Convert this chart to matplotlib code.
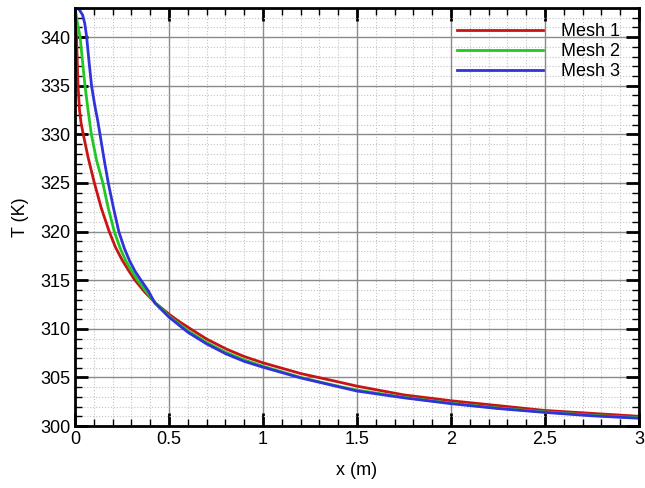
import matplotlib
matplotlib.use("Agg")
import matplotlib.pyplot as plt
from matplotlib.ticker import MultipleLocator

plt.rcParams['font.family'] = ['Liberation Sans', 'DejaVu Sans']

# Mesh 1 (red)
x1 = [0, 0.008, 0.016, 0.024, 0.032, 0.044, 0.07, 0.103, 0.14, 0.182, 0.215,
      0.25, 0.285, 0.319, 0.37, 0.425, 0.5, 0.55, 0.61, 0.7, 0.807, 0.9, 1.0,
      1.2, 1.41, 1.5, 1.75, 2.0, 2.25, 2.5, 2.75, 3.0]
t1 = [343, 340, 335, 332.5, 331.2, 330, 327.6, 325, 322.4, 320, 318.4,
      317.1, 316.0, 315.0, 313.8, 312.7, 311.5, 310.8, 310.05, 308.95, 307.9, 307.15, 306.5,
      305.4, 304.5, 304.1, 303.2, 302.6, 302.1, 301.6, 301.3, 301.0]

# Mesh 2 (green)
x2 = [0, 0.012, 0.027, 0.053, 0.07, 0.087, 0.115, 0.148, 0.177, 0.209, 0.24,
      0.27, 0.3, 0.333, 0.38, 0.425, 0.5, 0.6, 0.7, 0.8, 0.9, 1.0, 1.2, 1.41,
      1.5, 1.75, 2.0, 2.25, 2.5, 2.75, 3.0]
t2 = [343, 341.6, 340, 335, 332.4, 330, 327.3, 325, 322.4, 320, 318.3,
      317.0, 316.0, 315, 313.8, 312.7, 311.3, 309.8, 308.6, 307.6, 306.8, 306.15, 305.0, 304.05,
      303.7, 302.95, 302.35, 301.85, 301.45, 301.1, 300.85]

# Mesh 3 (blue)
x3 = [0, 0.02, 0.04, 0.052, 0.062, 0.075, 0.088, 0.105, 0.121, 0.133, 0.155,
      0.177, 0.205, 0.233, 0.262, 0.29, 0.32, 0.351, 0.39, 0.425, 0.5, 0.6, 0.7,
      0.8, 0.9, 1.0, 1.2, 1.41, 1.5, 1.75, 2.0, 2.25, 2.5, 2.75, 3.0]
t3 = [343, 342.9, 342.3, 341.4, 340, 337.4, 335, 333.0, 331.4, 330, 327.4,
      325, 322.4, 320, 318.3, 317.0, 315.9, 315, 313.9, 312.65, 311.2, 309.65, 308.45,
      307.45, 306.65, 306.05, 304.95, 304.0, 303.6, 302.9, 302.3, 301.8, 301.4, 301.05, 300.8]

labels = ['Mesh 1', 'Mesh 2', 'Mesh 3']
colors = ['#c81414', '#22c822', '#3232dc']

fig = plt.figure(figsize=(6.45, 4.88), dpi=100)
ax = fig.add_axes([0.1163, 0.127, 0.8744, 0.8566])

for xs, ts, lab, c in zip([x1, x2, x3], [t1, t2, t3], labels, colors):
    ax.plot(xs, ts, color=c, lw=2, label=lab)

ax.set_xlim(0, 3)
ax.set_ylim(300, 343)
ax.xaxis.set_major_locator(MultipleLocator(0.5))
ax.xaxis.set_minor_locator(MultipleLocator(0.1))
ax.yaxis.set_major_locator(MultipleLocator(5))
ax.yaxis.set_minor_locator(MultipleLocator(1))
ax.set_xticks([0, 0.5, 1, 1.5, 2, 2.5, 3])
ax.set_xticklabels(['0', '0.5', '1', '1.5', '2', '2.5', '3'])

ax.grid(which='major', color='#8a8a8a', lw=1, ls='-')
ax.grid(which='minor', color='#c4c4c4', lw=0.8, ls=':')
ax.set_axisbelow(True)

ax.tick_params(which='both', direction='in', top=True, right=True, labelsize=13,
               color='black')
ax.tick_params(which='major', length=9.5, width=2)
ax.tick_params(which='minor', length=5, width=1)
for s in ax.spines.values():
    s.set_linewidth(2)

ax.set_xlabel('x (m)', fontsize=13, labelpad=10)
ax.set_ylabel('T (K)', fontsize=13, labelpad=8)

ax.legend(loc='upper right', frameon=False, fontsize=13, handlelength=4.8,
          handletextpad=1.0, labelspacing=0.15, borderaxespad=0.5,
          bbox_to_anchor=(0.996, 1.002))

fig.savefig('out.png', dpi=100)
